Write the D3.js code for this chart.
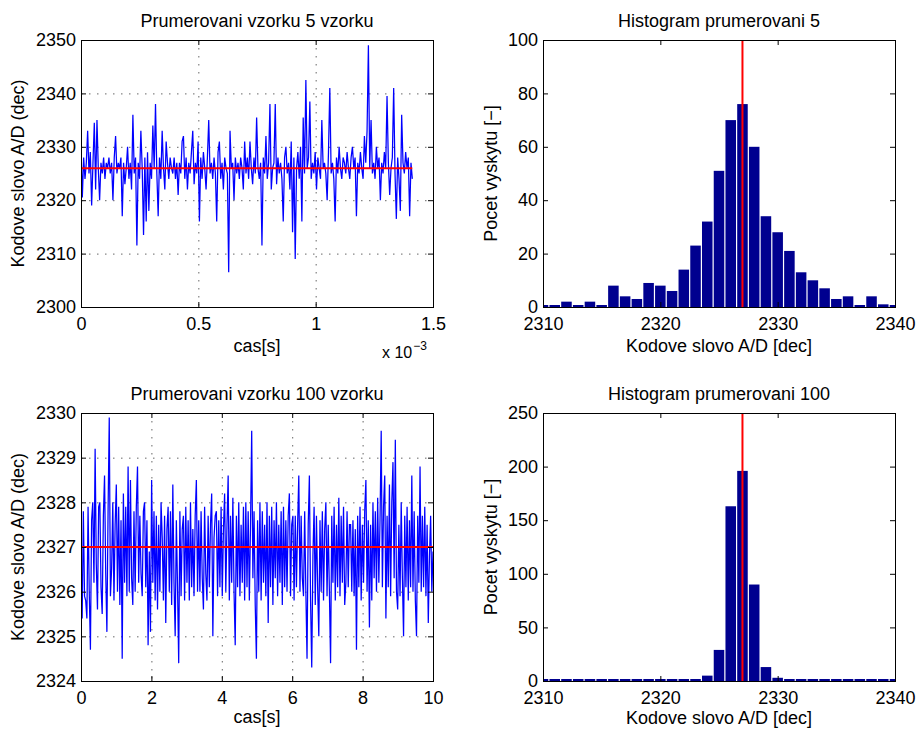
<!DOCTYPE html>
<html lang="en">
<head>
<meta charset="utf-8">
<title>Prumerovani vzorku</title>
<script src="https://d3js.org/d3.v7.min.js"></script>
<style>
  body { margin: 0; background: #fff; }
  text { font-family: "Liberation Sans", Arial, Helvetica, sans-serif; fill: #000; }
  .tick text { font-size: 18px; }
  .lbl { font-size: 18px; }
  .grid line { stroke: #000; stroke-opacity: .6; stroke-dasharray: 1.5,6.5; }
</style>
</head>
<body>
<script>
// prumerovani 5 vzorku (250 vzorku, krok step5)
const avg5 = [
  2330, 2320.5, 2328, 2324, 2327, 2333, 2325, 2329, 2319, 2327,
  2334.5, 2322, 2335, 2326, 2320, 2327, 2325, 2328, 2324, 2327,
  2326, 2328, 2325, 2327, 2320, 2328, 2332, 2325, 2327, 2326,
  2328, 2317, 2327, 2323, 2326, 2330, 2324, 2327, 2322, 2336,
  2325, 2328, 2311.5, 2327, 2324, 2333, 2326, 2313.5, 2328, 2316,
  2329, 2318, 2327, 2324, 2334, 2326, 2338, 2325, 2317, 2328,
  2324, 2333, 2326, 2322, 2331, 2327, 2324, 2328, 2326, 2325,
  2328, 2324, 2327, 2321, 2327, 2325, 2331, 2332, 2324, 2328,
  2322, 2327, 2325, 2329, 2333, 2323, 2327, 2325, 2331, 2316,
  2328, 2324, 2329, 2326, 2322, 2328, 2335, 2325, 2327, 2324,
  2328, 2325, 2316, 2329, 2331, 2324, 2327, 2322, 2328, 2326,
  2325, 2306.5, 2333, 2326, 2327, 2320, 2328, 2325, 2327, 2324,
  2328, 2326, 2322, 2331, 2325, 2328, 2324, 2331, 2326, 2323,
  2328, 2325, 2335.5, 2326, 2324, 2327, 2311.5, 2328, 2325, 2332,
  2324, 2327, 2338, 2322, 2326, 2327, 2338, 2323, 2328, 2325,
  2327, 2324, 2316, 2328, 2330, 2325, 2327, 2322, 2331, 2314,
  2328, 2309, 2326, 2329, 2324, 2330, 2316, 2335.5, 2325, 2342.5,
  2326, 2328, 2338.5, 2324, 2327, 2325, 2329, 2322, 2328, 2326,
  2324, 2335, 2326, 2327, 2325, 2320, 2329, 2341, 2325, 2327,
  2324, 2316, 2328, 2325, 2330, 2326, 2324, 2328, 2327, 2325,
  2329, 2326, 2324, 2328, 2330, 2326, 2328, 2317, 2327, 2325,
  2329, 2326, 2324, 2332, 2327, 2333, 2349, 2326, 2335, 2325,
  2327, 2324, 2330, 2326, 2328, 2320, 2327, 2325, 2329, 2326,
  2339.5, 2327, 2321, 2326, 2328, 2341, 2325, 2316.5, 2328, 2324,
  2318, 2336, 2327, 2325, 2329, 2326, 2328, 2317, 2327, 2324
];
const step5 = 5.67e-6;
const mean5 = 2326;

// prumerovani 100 vzorku (300 vzorku do 10 s)
const avg100 = [
  2326.9, 2325.4, 2327.8, 2325.9, 2325.8, 2325.4, 2327.9, 2326.0, 2324.7, 2327.6,
  2328.0, 2326.2, 2329.2, 2326.6, 2325.6, 2327.9, 2328.0, 2326.1, 2325.5, 2327.7,
  2328.6, 2326.4, 2325.1, 2327.8, 2329.9, 2325.9, 2326.5, 2328.0, 2325.8, 2327.5,
  2328.4, 2326.0, 2327.9, 2325.7, 2327.6, 2324.5, 2328.2, 2326.2, 2327.9, 2325.9,
  2328.8, 2326.0, 2328.5, 2326.3, 2325.7, 2327.8, 2326.0, 2327.9, 2328.8, 2326.2,
  2327.7, 2326.4, 2325.9, 2327.8, 2328.0, 2326.1, 2327.6, 2324.8, 2326.9, 2325.1,
  2328.5, 2326.2, 2327.8, 2325.8, 2327.7, 2325.6, 2327.5, 2326.0, 2328.0, 2327.2,
  2325.8, 2327.7, 2325.3, 2327.4, 2327.9, 2326.0, 2327.8, 2325.7, 2328.4, 2326.2,
  2325.0, 2327.6, 2326.1, 2324.4, 2327.8, 2325.9, 2327.4, 2327.7, 2325.8, 2327.9,
  2326.2, 2327.6, 2325.8, 2328.0, 2326.1, 2327.4, 2325.9, 2327.7, 2328.5, 2326.0,
  2327.6, 2326.0, 2327.8, 2326.3, 2325.6, 2327.9, 2326.4, 2325.8, 2327.7, 2326.1,
  2327.5, 2328.2, 2325.0, 2327.2, 2327.7, 2327.8, 2325.9, 2327.6, 2326.1, 2327.9,
  2325.9, 2327.4, 2328.2, 2326.0, 2327.5, 2328.6, 2325.8, 2327.7, 2326.2, 2328.1,
  2326.0, 2324.8, 2327.7, 2326.1, 2328.0, 2325.9, 2327.5, 2326.2, 2327.9, 2325.8,
  2328.0, 2326.1, 2327.8, 2325.8, 2327.5, 2329.6, 2326.3, 2327.8, 2325.7, 2324.5,
  2327.6, 2326.0, 2328.0, 2325.8, 2327.8, 2326.2, 2327.5, 2325.9, 2328.0, 2325.3,
  2327.7, 2326.1, 2327.9, 2325.7, 2327.6, 2326.3, 2328.0, 2325.9, 2327.5, 2326.2,
  2327.8, 2325.7, 2327.9, 2326.1, 2327.6, 2326.0, 2327.7, 2328.2, 2325.9, 2327.5,
  2327.7, 2325.8, 2327.7, 2326.1, 2327.5, 2328.6, 2326.0, 2327.7, 2326.3, 2325.9,
  2327.8, 2326.0, 2324.5, 2327.5, 2328.6, 2325.8, 2324.3, 2326.8, 2327.9, 2325.7,
  2327.7, 2326.1, 2325.0, 2327.6, 2326.0, 2327.8, 2325.8, 2327.4, 2328.0, 2325.9,
  2327.5, 2326.0, 2324.4, 2327.7, 2326.2, 2327.9, 2325.8, 2327.5, 2326.1, 2328.1,
  2325.9, 2327.7, 2326.2, 2327.9, 2325.7, 2326.2, 2327.8, 2326.1, 2327.5, 2327.5,
  2326.0, 2327.6, 2325.9, 2327.4, 2324.7, 2327.7, 2326.1, 2327.9, 2325.8, 2327.5,
  2326.2, 2327.8, 2328.5, 2326.0, 2327.6, 2325.2, 2327.5, 2325.8, 2328.0, 2326.3,
  2327.8, 2326.0, 2328.1, 2326.2, 2327.6, 2329.6, 2326.1, 2327.9, 2328.6, 2325.4,
  2327.7, 2326.1, 2328.4, 2325.9, 2328.0, 2328.9, 2326.3, 2329.4, 2326.0, 2325.6,
  2327.5, 2325.9, 2328.0, 2326.3, 2325.0, 2327.7, 2326.1, 2327.9, 2325.8, 2327.6,
  2326.1, 2328.6, 2326.0, 2327.8, 2325.8, 2325.0, 2327.7, 2326.2, 2328.8, 2326.0,
  2327.7, 2326.1, 2327.9, 2325.9, 2327.5, 2325.3, 2326.8, 2327.7, 2326.0, 2326.9
];
const step100 = 10 / 299;
const mean100 = 2327;

// histogramy
const histBins = [2310, 2311, 2312, 2313, 2314, 2315, 2316, 2317, 2318, 2319, 2320,
  2321, 2322, 2323, 2324, 2325, 2326, 2327, 2328, 2329, 2330,
  2331, 2332, 2333, 2334, 2335, 2336, 2337, 2338, 2339, 2340];
const hist5 = [0, 0, 2, 0, 2, 0, 8, 4, 3, 9, 8,
  6, 14, 23, 32, 51, 70, 76, 60, 34, 28,
  21, 13, 10, 7, 3, 4, 0, 4, 1, 0];
const hist100 = [0, 0, 0, 0, 0, 0, 0, 0, 0, 0, 0,
  0, 0, 0, 5, 29, 163, 196, 90, 13, 3,
  0, 0, 0, 0, 0, 0, 0, 0, 0, 0];
const histMean = 2327;

const ticks5x = [0, 0.5e-3, 1e-3, 1.5e-3];
const ticks5y = [2300, 2310, 2320, 2330, 2340, 2350];
const ticks100x = [0, 2, 4, 6, 8, 10];
const ticks100y = [2324, 2325, 2326, 2327, 2328, 2329, 2330];
const ticksHx = [2310, 2320, 2330, 2340];
const ticksH5y = [0, 20, 40, 60, 80, 100];
const ticksH100y = [0, 50, 100, 150, 200, 250];

const svg = d3.select("body").append("svg").attr("width", 917).attr("height", 729);

let clipId = 0;

function panel(p) {
    const g = svg.append("g").attr("transform", `translate(${p.x},${p.y})`);
    const id = "clip" + (clipId++);
    g.append("clipPath").attr("id", id).append("rect").attr("width", p.w).attr("height", p.h);
    g.clip = `url(#${id})`;
    return g;
}

function frame(g, p, x, y, xt, yt, xFmt, ylab, xlab, title, grid) {
    if (grid) {
        const gr = g.append("g").attr("class", "grid");
        gr.selectAll("line.gx").data(xt.slice(1, -1)).join("line")
            .attr("x1", d => x(d) + .5).attr("x2", d => x(d) + .5).attr("y1", 0).attr("y2", p.h);
        gr.selectAll("line.gy").data(yt.slice(1, -1)).join("line")
            .attr("y1", d => y(d) + .5).attr("y2", d => y(d) + .5).attr("x1", 0).attr("x2", p.w);
    }
    return function () {
        const noDomain = a => a.select(".domain").remove();
        g.append("g").attr("transform", `translate(0,${p.h})`)
            .call(d3.axisBottom(x).tickValues(xt).tickSize(-5).tickPadding(10).tickFormat(xFmt)).call(noDomain);
        g.append("g").call(d3.axisTop(x).tickValues(xt).tickSize(-5).tickFormat("")).call(noDomain);
        g.append("g").call(d3.axisLeft(y).tickValues(yt).tickSize(-5).tickPadding(5).tickFormat(d3.format("d"))).call(noDomain);
        g.append("g").attr("transform", `translate(${p.w},0)`)
            .call(d3.axisRight(y).tickValues(yt).tickSize(-5).tickFormat("")).call(noDomain);
        g.append("rect").attr("x", .5).attr("y", .5).attr("width", p.w).attr("height", p.h)
            .attr("fill", "none").attr("stroke", "#000");
        g.append("text").attr("class", "lbl").attr("text-anchor", "middle")
            .attr("x", p.w / 2).attr("y", -13).text(title);
        g.append("text").attr("class", "lbl").attr("text-anchor", "middle")
            .attr("x", p.w / 2).attr("y", p.h + p.xl).text(xlab);
        g.append("text").attr("class", "lbl").attr("text-anchor", "middle")
            .attr("transform", `translate(${p.yl},${p.h / 2}) rotate(-90)`).text(ylab);
    };
}

function linePanel(p, vals, step, xDom, xt, xFmt, yDom, yt, mean, meanEnd, title) {
    const g = panel(p);
    const x = d3.scaleLinear().domain(xDom).range([0, p.w]);
    const y = d3.scaleLinear().domain(yDom).range([p.h, 0]);
    const finish = frame(g, p, x, y, xt, yt, xFmt, "Kodove slovo A/D (dec)", "cas[s]", title, true);
    g.append("path").datum(vals).attr("clip-path", g.clip)
        .attr("fill", "none").attr("stroke", "#0000ff").attr("stroke-width", 1.25)
        .attr("d", d3.line().x((d, i) => x(i * step)).y(d => y(d)));
    g.append("path").datum([0, meanEnd])
        .attr("fill", "none").attr("stroke", "#ff0000").attr("stroke-width", 2)
        .attr("d", d3.line().x(d => x(d)).y(() => y(mean)));
    finish();
    return g;
}

function histPanel(p, counts, yDom, yt, title) {
    const g = panel(p);
    const x = d3.scaleLinear().domain([2310, 2340]).range([0, p.w]);
    const y = d3.scaleLinear().domain(yDom).range([p.h, 0]);
    const finish = frame(g, p, x, y, ticksHx, yt, d3.format("d"), "Pocet vyskytu [\u2212]", "Kodove slovo A/D [dec]", title, false);
    g.append("g").attr("clip-path", g.clip)
        .selectAll("rect").data(histBins).join("rect")
        .attr("x", d => x(d - .5) + .6)
        .attr("width", d => x(d + .5) - x(d - .5) - 1.2)
        .attr("y", (d, i) => Math.min(y(counts[i]), y(0) - 2))
        .attr("height", (d, i) => y(0) - Math.min(y(counts[i]), y(0) - 2))
        .attr("fill", "#00008f");
    g.append("line").attr("x1", x(histMean)).attr("x2", x(histMean)).attr("y1", 0).attr("y2", p.h)
        .attr("stroke", "#ff0000").attr("stroke-width", 2);
    finish();
    return g;
}

const tl = {x: 81, y: 40, w: 352, h: 267, xl: 45, yl: -57};
const tr = {x: 543, y: 40, w: 352, h: 267, xl: 45, yl: -46};
const bl = {x: 81, y: 413, w: 352, h: 268, xl: 42, yl: -57};
const br = {x: 543, y: 413, w: 352, h: 268, xl: 43, yl: -46};

const g5 = linePanel(tl, avg5, step5, [0, 1.5e-3], ticks5x, d => d3.format("~g")(d * 1e3),
    [2300, 2350], ticks5y, mean5, (avg5.length - 1) * step5, "Prumerovani vzorku 5 vzorku");
const exp = g5.append("text").attr("x", tl.w - 51).attr("y", tl.h + 51).attr("font-size", 16);
exp.append("tspan").attr("font-size", 16).text("x 10");
exp.append("tspan").attr("font-size", 12).attr("dy", -8).attr("dx", 1).text("\u22123");

linePanel(bl, avg100, step100, [0, 10], ticks100x, d3.format("d"),
    [2324, 2330], ticks100y, mean100, (avg100.length - 1) * step100, "Prumerovani vzorku 100 vzorku");

histPanel(tr, hist5, [0, 100], ticksH5y, "Histogram prumerovani 5");
histPanel(br, hist100, [0, 250], ticksH100y, "Histogram prumerovani 100");
</script>
</body>
</html>
